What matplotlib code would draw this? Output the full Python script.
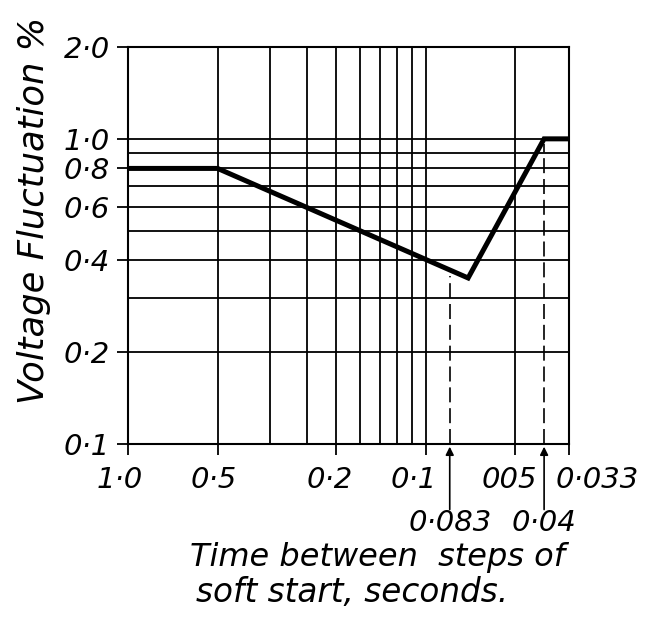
import numpy as np
import matplotlib
matplotlib.use('Agg')
import matplotlib.pyplot as plt
import matplotlib.transforms as mtransforms

# data
stepTime = [1.0, 0.5, 0.072, 0.04, 0.033]
fluct = [0.8, 0.8, 0.35, 1.0, 1.0]

xMajor = [1.0, 0.5, 0.2, 0.1, 0.05, 0.033]
xMajorLabels = ['1·0', '0·5', '0·2', '0·1', '005', '0·033']
xMinor = [1/3, 1/4, 1/6, 1/7, 1/8, 1/9]
yMajor = [0.1, 0.2, 0.4, 0.6, 0.8, 1.0, 2.0]
yMajorLabels = ['0·1', '0·2', '0·4', '0·6', '0·8', '1·0', '2·0']
yMinor = [0.3, 0.5, 0.7, 0.9]

markTimes = [0.083, 0.04]
markLabels = ['0·083', '0·04']
markTop = [0.355, 0.96]

plt.rcParams['font.family'] = ['DejaVu Sans']
plt.rcParams['font.style'] = 'oblique'

fig = plt.figure(figsize=(6.58, 6.29), dpi=100)
ax = fig.add_axes([0.1945, 0.2941, 0.6702, 0.6312])
ax.set_xscale('log')
ax.set_yscale('log')
ax.set_xlim(1.0, 0.033)
ax.set_ylim(0.1, 2.0)

ax.set_xticks(xMajor, labels=xMajorLabels)
ax.set_xticks(xMinor, minor=True)
ax.set_yticks(yMajor, labels=yMajorLabels)
ax.set_yticks(yMinor, minor=True)
ax.xaxis.set_minor_formatter(plt.NullFormatter())
ax.yaxis.set_minor_formatter(plt.NullFormatter())
ax.tick_params(which='major', direction='out', length=8, width=1.3, labelsize=21, pad=8)
ax.tick_params(which='minor', length=0)
ax.tick_params(axis='y', pad=5)
ax.grid(True, which='both', color='black', lw=1.3)
for s in ax.spines.values():
    s.set_linewidth(1.5)

# nudge x tick labels like the hand lettering
shifts = [-8, -4, -6, -12, -6, 28]
for lab, dx in zip(ax.get_xticklabels(), shifts):
    lab.set_transform(lab.get_transform() + mtransforms.ScaledTranslation(dx/100, 0, fig.dpi_scale_trans))

ax.plot(stepTime, fluct, color='black', lw=3.6, solid_joinstyle='miter', zorder=5)

for t, top, lab in zip(markTimes, markTop, markLabels):
    ax.plot([t, t], [0.1, top], color='black', lw=1.2, dashes=(9, 3.5), zorder=4)
    ax.annotate('', xy=(t, 0.098), xycoords='data',
                xytext=(t, -0.165), textcoords=('data', 'axes fraction'),
                arrowprops=dict(arrowstyle='-|>', color='black', lw=1.2,
                                mutation_scale=12, shrinkA=0, shrinkB=0),
                annotation_clip=False)
    ax.text(t, -0.198, lab, transform=ax.get_xaxis_transform(), ha='center',
            va='center', fontsize=21)

fig.text(0.052, 0.666, 'Voltage Fluctuation %', rotation=90, ha='center',
         va='center', fontsize=25.5)
fig.text(0.574, 0.114, 'Time between  steps of', ha='center', va='center', fontsize=23)
fig.text(0.535, 0.058, 'soft start, seconds.', ha='center', va='center', fontsize=23.5)

fig.savefig('out.png', dpi=100, facecolor='white')
